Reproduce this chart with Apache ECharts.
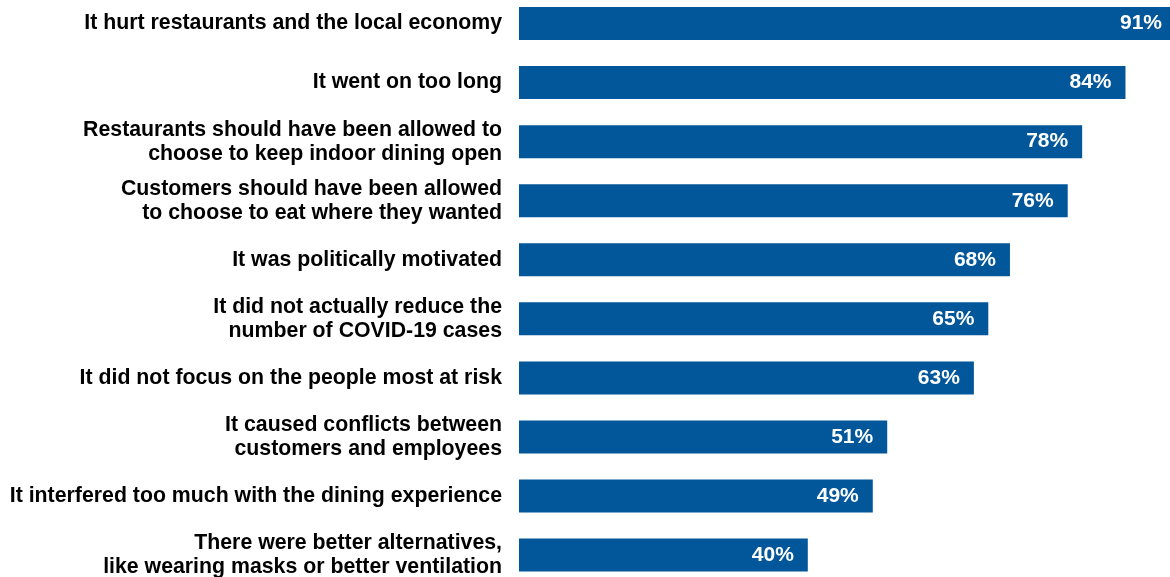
<!DOCTYPE html>
<html>
<head>
<meta charset="utf-8">
<script src="https://cdn.jsdelivr.net/npm/echarts@6/dist/echarts.min.js"></script>
<style>
html,body{margin:0;padding:0;background:#fff;}
#chart{width:1170px;height:577px;}
</style>
</head>
<body>
<div id="chart"></div>
<script>
// Reasons given, top to bottom
const categories = [
  'It hurt restaurants and the local economy',
  'It went on too long',
  'Restaurants should have been allowed to\nchoose to keep indoor dining open',
  'Customers should have been allowed\nto choose to eat where they wanted',
  'It was politically motivated',
  'It did not actually reduce the\nnumber of COVID-19 cases',
  'It did not focus on the people most at risk',
  'It caused conflicts between\ncustomers and employees',
  'It interfered too much with the dining experience',
  'There were better alternatives,\nlike wearing masks or better ventilation'
];
// Share of respondents (%)
const values = [91, 84, 78, 76, 68, 65, 63, 51, 49, 40];

const chart = echarts.init(document.getElementById('chart'));
chart.setOption({
  animation: false,
  grid: {
    left: 519, top: -6, width: 722, height: 590.6,
    containLabel: false, outerBoundsMode: 'none'
  },
  xAxis: {
    type: 'value', min: 0, max: 100,
    show: false
  },
  yAxis: {
    type: 'category',
    inverse: true,
    data: categories,
    axisLine: { show: false },
    axisTick: { show: false },
    axisLabel: {
      margin: 17,
      color: '#000',
      fontFamily: 'Liberation Sans, Arial, sans-serif',
      fontWeight: 'bold',
      fontSize: 21.3,
      lineHeight: 24,
      align: 'right'
    }
  },
  series: [{
    type: 'bar',
    data: values,
    barWidth: 33,
    clip: false,
    itemStyle: { color: '#02569A' },
    label: {
      show: true,
      position: 'insideRight',
      offset: [-9, 0],
      formatter: '{c}%',
      color: '#fff',
      fontFamily: 'Liberation Sans, Arial, sans-serif',
      fontWeight: 'bold',
      fontSize: 21
    }
  }]
});
</script>
</body>
</html>
